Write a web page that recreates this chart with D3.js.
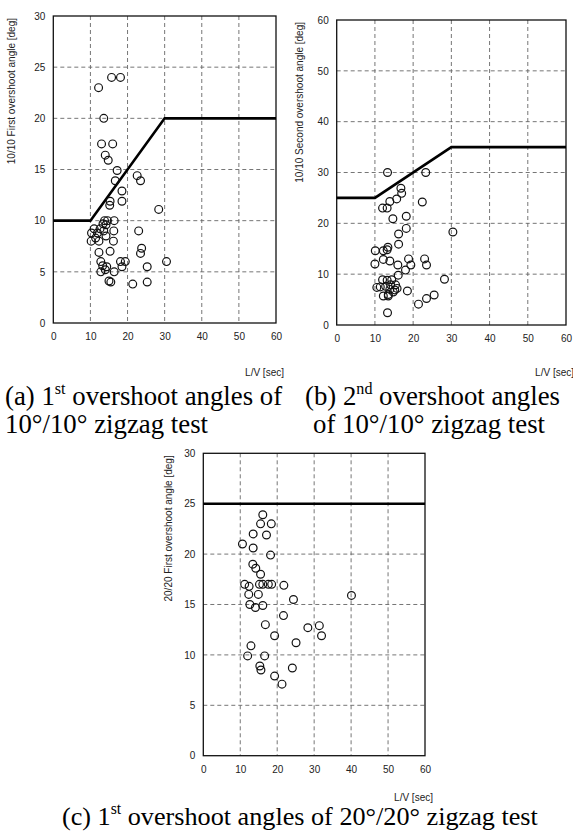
<!DOCTYPE html>
<html>
<head>
<meta charset="utf-8">
<script src="https://cdn.jsdelivr.net/npm/d3@7"></script>
<style>
  html, body { margin: 0; padding: 0; background: #fff; }
  svg { display: block; }
  .tick text { font-family: "Liberation Sans", Arial, sans-serif; font-size: 10px; fill: #222; }
  .sans { font-family: "Liberation Sans", Arial, sans-serif; }
  .serif { font-family: "Liberation Serif", "Times New Roman", serif; }
</style>
</head>
<body>
<script>
// ---------- data ----------
const xTicks = [0, 10, 20, 30, 40, 50, 60];
const yTicksA = [0, 5, 10, 15, 20, 25, 30];
const yTicksB = [0, 10, 20, 30, 40, 50, 60];
const yTicksC = [0, 5, 10, 15, 20, 25, 30];

// criterion lines (L/V, angle)
const limitAx = [0, 10, 30, 60];
const limitAy = [10, 10, 20, 20];
const limitBx = [0, 10, 30, 60];
const limitBy = [25, 25, 35, 35];
const limitCx = [0, 60];
const limitCy = [25, 25];

// (a) 10/10 first overshoot angle vs L/V
const pointsA = [
  [12.2,23.0],[15.7,24.0],[18.1,24.0],[13.6,20.0],[13.0,17.5],[16.0,17.5],[14.0,16.4],[14.8,15.9],
  [17.2,14.9],[16.7,13.9],[22.6,14.4],[23.5,13.9],[18.5,12.9],[18.5,11.9],[15.3,11.9],[15.2,11.5],
  [28.4,11.1],[13.8,10.0],[14.6,10.0],[16.4,10.0],[13.4,9.7],[14.2,9.6],[11.0,9.2],[12.6,9.2],
  [10.3,8.8],[11.9,8.8],[13.6,9.0],[16.3,9.0],[23.0,9.0],[10.2,8.0],[12.3,8.0],[14.2,8.5],
  [16.2,8.0],[11.4,8.3],[12.3,6.9],[15.3,7.0],[23.8,7.3],[23.5,6.8],[12.8,6.0],[13.3,5.6],
  [12.8,5.0],[14.4,5.5],[14.0,5.2],[16.4,5.0],[18.1,6.0],[19.4,6.0],[18.5,5.5],[25.3,5.5],
  [30.5,6.0],[15.0,4.1],[15.5,4.0],[21.4,3.8],[25.3,4.0]
];
// (b) 10/10 second overshoot angle vs L/V
const pointsB = [
  [13.3,30.0],[23.3,30.0],[16.8,26.9],[17.0,25.9],[15.7,24.8],[13.9,24.3],[22.4,24.2],[12.0,23.0],
  [13.2,23.0],[14.7,20.9],[18.2,21.4],[18.2,19.0],[16.2,17.9],[30.4,18.3],[16.2,15.9],[13.4,15.3],
  [13.2,14.8],[10.1,14.6],[12.2,14.6],[10.0,12.0],[12.2,12.9],[13.9,12.6],[16.0,11.8],[18.8,13.0],
  [19.4,11.8],[18.0,10.8],[23.0,13.0],[23.5,11.8],[16.1,9.8],[28.2,9.0],[12.0,8.9],[13.2,8.8],
  [14.4,8.9],[10.5,7.4],[11.4,7.5],[12.8,7.6],[14.1,7.9],[15.4,7.9],[13.9,7.0],[15.2,6.9],
  [15.8,7.2],[18.5,6.7],[12.2,5.7],[13.5,6.0],[14.8,6.5],[13.5,5.7],[21.4,4.1],[23.5,5.2],
  [25.5,5.9],[13.3,2.4]
];
// (c) 20/20 first overshoot angle vs L/V
const pointsC = [
  [16.1,23.9],[15.5,23.0],[18.4,23.0],[13.5,22.0],[17.1,21.9],[10.6,21.0],[13.5,20.6],[18.2,19.9],
  [13.4,19.0],[14.2,18.6],[15.5,18.0],[11.2,17.0],[12.4,16.8],[15.2,17.0],[16.1,17.0],[17.6,17.0],
  [18.5,17.0],[21.8,16.9],[12.3,16.0],[14.9,16.0],[40.1,15.9],[24.4,15.5],[12.6,15.0],[14.1,14.7],
  [16.1,14.9],[21.7,13.9],[16.8,13.0],[28.3,12.7],[31.4,12.9],[32.0,11.9],[19.3,11.9],[25.1,11.2],
  [12.9,10.9],[12.0,9.9],[16.6,9.9],[15.3,8.9],[15.6,8.5],[24.1,8.7],[19.3,7.9],[21.3,7.1]
];

const yTitles = ["10/10 First overshoot angle [deg]", "10/10 Second overshoot angle [deg]", "20/20 First overshoot angle [deg]"];
const xTitle = "L/V [sec]";

// ---------- layout ----------
const W = 573, H = 838;
const panels = [
  { left: 53.3, top: 16, right: 276, bottom: 323, ymax: 30, yTicks: yTicksA, pts: pointsA, lx: limitAx, ly: limitAy, title: yTitles[0], titleOff: -38, lvDy: 53 },
  { left: 336.7, top: 20, right: 566, bottom: 325, ymax: 60, yTicks: yTicksB, pts: pointsB, lx: limitBx, ly: limitBy, title: yTitles[1], titleOff: -34, lvDy: 51 },
  { left: 203.3, top: 453.3, right: 425, bottom: 755.7, ymax: 30, yTicks: yTicksC, pts: pointsC, lx: limitCx, ly: limitCy, title: yTitles[2], titleOff: -31, lvDy: 45 }
];

const svg = d3.select("body").append("svg").attr("width", W).attr("height", H);
svg.append("rect").attr("width", W).attr("height", H).attr("fill", "#fff");

panels.forEach(p => {
  const w = p.right - p.left, h = p.bottom - p.top;
  const x = d3.scaleLinear().domain([0, 60]).range([0, w]);
  const y = d3.scaleLinear().domain([0, p.ymax]).range([h, 0]);
  const g = svg.append("g").attr("transform", `translate(${p.left},${p.top})`);

  // grid
  const grid = g.append("g").attr("stroke", "#666").attr("stroke-width", 0.9).attr("stroke-dasharray", "4,3");
  grid.selectAll("line.v").data(xTicks.slice(1, -1)).join("line")
    .attr("x1", d => x(d)).attr("x2", d => x(d)).attr("y1", 0).attr("y2", h);
  grid.selectAll("line.h").data(p.yTicks.slice(1, -1)).join("line")
    .attr("x1", 0).attr("x2", w).attr("y1", d => y(d)).attr("y2", d => y(d));

  // axes (labels only)
  const ax = g.append("g").attr("transform", `translate(0,${h})`)
    .call(d3.axisBottom(x).tickValues(xTicks).tickSize(0).tickPadding(10).tickFormat(d3.format("d")));
  ax.select(".domain").remove();
  const ay = g.append("g")
    .call(d3.axisLeft(y).tickValues(p.yTicks).tickSize(0).tickPadding(8).tickFormat(d3.format("d")));
  ay.select(".domain").remove();

  // frame
  g.append("rect").attr("x", 0).attr("y", 0).attr("width", w).attr("height", h)
    .attr("fill", "none").attr("stroke", "#111").attr("stroke-width", 1.3);

  // criterion line
  const line = d3.line().x(d => x(d[0])).y(d => y(d[1]));
  g.append("path").datum(p.lx.map((v, i) => [v, p.ly[i]]))
    .attr("d", line).attr("fill", "none").attr("stroke", "#000").attr("stroke-width", 2.6);

  // points
  g.selectAll("circle").data(p.pts).join("circle")
    .attr("cx", d => x(d[0])).attr("cy", d => y(d[1])).attr("r", 3.9)
    .attr("fill", "none").attr("stroke", "#111").attr("stroke-width", 1.2);

  // y title
  g.append("text").attr("class", "sans")
    .attr("transform", `translate(${p.titleOff},2) rotate(-90)`)
    .attr("text-anchor", "end").attr("font-size", 10).attr("fill", "#222")
    .text(p.title);

  // x title
  g.append("text").attr("class", "sans")
    .attr("x", w + 8).attr("y", h + p.lvDy).attr("text-anchor", "end")
    .attr("font-size", 10).attr("fill", "#222").text(xTitle);
});

// captions
const captions = [
  { x: 5, y: 405, fs: 26.8, parts: [["(a) 1", 0], ["st", 1], [" overshoot angles of", 0]] },
  { x: 5, y: 433, fs: 26.8, parts: [["10°/10° zigzag test", 0]] },
  { x: 305, y: 405, fs: 26.8, parts: [["(b) 2", 0], ["nd", 1], [" overshoot angles", 0]] },
  { x: 313, y: 433, fs: 26.8, parts: [["of 10°/10° zigzag test", 0]] },
  { x: 62, y: 825, fs: 26.2, parts: [["(c) 1", 0], ["st", 1], [" overshoot angles of 20°/20° zigzag test", 0]] }
];
captions.forEach(c => {
  const t = svg.append("text").attr("class", "serif").attr("x", c.x).attr("y", c.y)
    .attr("font-size", c.fs).attr("fill", "#000");
  c.parts.forEach(([s, sup], i) => {
    const ts = t.append("tspan").text(s);
    if (sup) ts.attr("font-size", c.fs * 0.6).attr("dy", -11);
    else if (i > 0 && c.parts[i - 1][1]) ts.attr("dy", 11);
  });
});
</script>
</body>
</html>
